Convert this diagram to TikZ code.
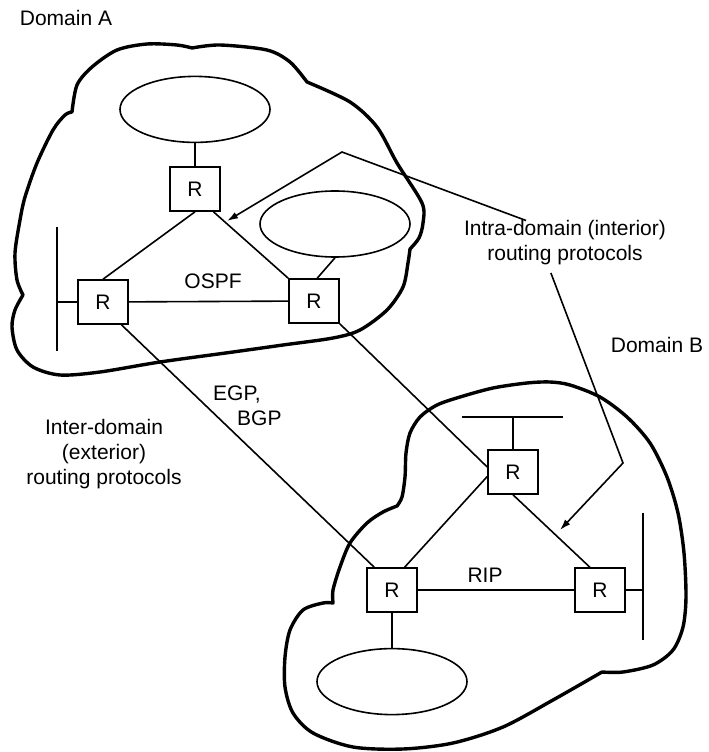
\documentclass[tikz,border=0pt]{standalone}
\usepackage{fontspec}
\setmainfont{Liberation Sans}
\usetikzlibrary{arrows.meta,positioning,shapes.geometric}

\begin{document}
\begin{tikzpicture}[
x=1pt, y=-1pt,
font=\fontsize{21}{25}\selectfont,
router/.style={draw, line width=1.6pt, minimum width=50pt, minimum height=44pt, inner sep=0pt},
net/.style={draw, ellipse, line width=1.6pt, minimum width=150pt, minimum height=66pt, inner sep=0pt},
link/.style={line width=1.6pt},
cloud/.style={line width=3.4pt, line join=round},
lbl/.style={inner sep=0pt, align=center},
arr/.style={-{Latex[length=11pt,width=7pt]}, line width=1.6pt}
]
\useasboundingbox (0,0) rectangle (709,752);

% domain outlines
\draw[cloud] plot[smooth] coordinates {(72,112) (77,85) (92,67) (117,50) (147,44) (177,45) (192,48)}
  -- plot[smooth] coordinates {(192,48) (220,45) (267,50) (290,62) (307,82)}
  -- plot[smooth] coordinates {(307,82) (350,102) (377,127) (397,163) (422,203) (423,223) (419,238) (410,249)}
  -- plot[smooth] coordinates {(410,249) (408,263) (403,287) (387,310) (360,330) (333,338) (283,345) (233,352) (160,362) (100,372) (60,375) (33,367) (17,350) (12,327) (15,310) (23,295)}
  -- plot[smooth] coordinates {(23,295) (17,280) (15,253) (20,220) (25,197) (37,163) (53,130) (65,115) (72,112)} -- cycle;
\draw[cloud] plot[smooth] coordinates {(397,506) (402,497) (405,477) (406,453) (410,433) (420,417) (437,405) (460,397) (493,388) (527,383) (550,382) (570,385) (600,397) (627,417) (650,443) (667,477) (678,513) (684,553) (686,597) (683,627) (673,650) (653,665) (623,672) (602,672)}
  -- plot[smooth] coordinates {(602,672) (553,700) (503,727) (453,743) (403,749) (353,747) (313,733) (293,713) (285,687) (285,657) (290,630) (303,610) (323,603) (333,603)}
  -- plot[smooth] coordinates {(333,603) (333,590) (340,567) (350,543) (367,523) (383,512) (397,506)} -- cycle;

% domain A
\node[router] (topA) at (195,189) {R};
\node[router] (leftA) at (103,302) {R};
\node[router] (rightA) at (314,301) {R};
\node[net, above=23pt of topA] (netA1) {};
\node[net] (netA2) at (335,224) {};
\coordinate (barAtop) at (57,227);
\coordinate (barAbot) at (57,351);

% domain B
\node[router] (topB) at (513,472) {R};
\node[router] (leftB) at (392,590) {R};
\node[router] (rightB) at (600,590) {R};
\node[net, below=35pt of leftB] (netB) {};
\coordinate (barBl) at (462,417);
\coordinate (barBr) at (563,417);
\coordinate (barCtop) at (643,513);
\coordinate (barCbot) at (643,640);

% labels
\node[lbl] (domA) at (66,18) {Domain A};
\node[lbl] (domB) at (657,345) {Domain B};
\node[lbl] (intra) at (565,243) {Intra-domain (interior)\\routing protocols};
\node[lbl] (inter) at (104,454) {Inter-domain\\(exterior)\\routing protocols};
\node[lbl, align=left, anchor=west] (egp) at (213,406) {EGP,\\\hspace*{24pt}BGP};
\node[lbl] (ospf) at (213,281) {OSPF};
\node[lbl] (rip) at (485,575) {RIP};

\coordinate (bendA) at (342,152);
\coordinate (tipA) at (227,221);
\coordinate (bendB) at (623,463);
\coordinate (tipB) at (560,530);

% links inside A
\draw[link] (netA1.south) -- (netA1.south |- topA.north);
\draw[link] (netA2.south) -- (rightA.82);
\draw[link] (topA.south) -- (leftA.north);
\draw[link] (topA.-51) -- (rightA.north west);
\draw[link] (leftA) -- (rightA);
\draw[link] (barAtop) -- (barAbot);
\draw[link] (leftA.west) -- (leftA.west -| barAtop);

% links between domains
\draw[link] (leftA.-51) -- (leftB.128);
\draw[link] (rightA.south east) -- (topB.169);

% links inside B
\draw[link] (barBl) -- (barBr);
\draw[link] (topB.north) -- (topB.north |- barBl);
\draw[link] (topB.190) -- (leftB.61);
\draw[link] (topB.south) -- (rightB.114);
\draw[link] (leftB) -- (rightB);
\draw[link] (barCtop) -- (barCbot);
\draw[link] (rightB.east) -- (rightB.east -| barCtop);
\draw[link] (leftB.south) -- (netB.north);

% pointers
\draw[arr] (intra.150) -- (bendA) -- (tipA);
\draw[arr, shorten <=8pt] (intra.233) -- (bendB) -- (tipB);
\end{tikzpicture}
\end{document}
